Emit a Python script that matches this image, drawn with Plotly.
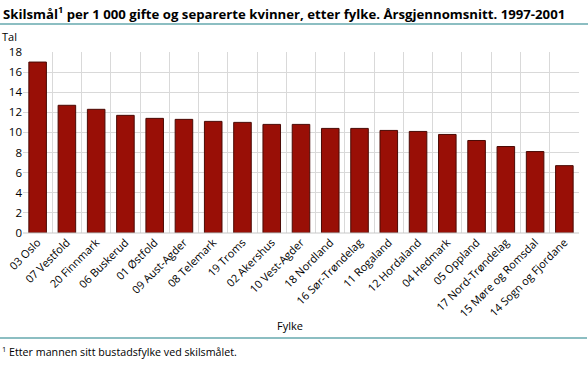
import plotly.graph_objects as go

fylke = ["03 Oslo", "07 Vestfold", "20 Finnmark", "06 Buskerud", "01 Østfold",
         "09 Aust-Agder", "08 Telemark", "19 Troms", "02 Akershus", "10 Vest-Agder",
         "18 Nordland", "16 Sør-Trøndelag", "11 Rogaland", "12 Hordaland", "04 Hedmark",
         "05 Oppland", "17 Nord-Trøndelag", "15 Møre og Romsdal", "14 Sogn og Fjordane"]
skilsmaal = [17.0, 12.7, 12.3, 11.7, 11.4, 11.3, 11.1, 11.0, 10.8, 10.8,
             10.4, 10.4, 10.2, 10.1, 9.8, 9.2, 8.6, 8.1, 6.7]
y_ticks = [0, 2, 4, 6, 8, 10, 12, 14, 16, 18]

W, H = 588, 391
ml, mr, mt, mb = 23, 9, 52, 158
pw, ph = W - ml - mr, H - mt - mb

def px_x(x):
    return (x - ml) / pw

def px_y(y):
    return (H - mb - y) / ph

FONT = "Open Sans"

fig = go.Figure(go.Bar(
    x=fylke, y=skilsmaal,
    marker=dict(color="#990f06", line=dict(color="#4a0a05", width=1)),
))

fig.update_layout(
    width=W, height=H,
    margin=dict(l=ml, r=mr, t=mt, b=mb, autoexpand=False),
    paper_bgcolor="white", plot_bgcolor="white",
    bargap=0.4,
    showlegend=False,
    font=dict(family=FONT, size=11, color="#000000"),
    xaxis=dict(
        tickson="boundaries", showgrid=True, gridcolor="#d9d9d9", gridwidth=1,
        tickangle=-45, ticks="", showline=False, automargin=False,
        tickfont=dict(size=11),
    ),
    yaxis=dict(
        range=[0, 18], tickvals=y_ticks, showgrid=True, gridcolor="#d9d9d9",
        gridwidth=1, zeroline=False, showline=False, ticks="", automargin=False,
        tickfont=dict(size=11.5),
    ),
    annotations=[
        dict(text="<b>Skilsmål<sup>1</sup> per 1 000 gifte og separerte kvinner, etter fylke. Årsgjennomsnitt. 1997-2001</b>",
             xref="paper", yref="paper", x=px_x(1), y=px_y(13), xanchor="left", yanchor="middle",
             showarrow=False, font=dict(size=13.2, family=FONT)),
        dict(text="Tal", xref="paper", yref="paper", x=px_x(0), y=px_y(36),
             xanchor="left", yanchor="middle", showarrow=False, font=dict(size=11)),
        dict(text="Fylke", xref="paper", yref="paper", x=px_x(290), y=px_y(325),
             xanchor="center", yanchor="middle", showarrow=False, font=dict(size=11)),
        dict(text="<sup>1</sup> Etter mannen sitt bustadsfylke ved skilsmålet.",
             xref="paper", yref="paper", x=px_x(0), y=px_y(351),
             xanchor="left", yanchor="middle", showarrow=False, font=dict(size=10.7)),
    ],
    shapes=[
        dict(type="line", xref="paper", yref="paper", x0=px_x(0), x1=px_x(588),
             y0=px_y(24), y1=px_y(24), line=dict(color="#1a7f86", width=1.2)),
        dict(type="line", xref="paper", yref="paper", x0=px_x(0), x1=px_x(587),
             y0=px_y(338), y1=px_y(338), line=dict(color="#1a7f86", width=1.2)),
        dict(type="line", xref="paper", yref="paper", x0=0, x1=1,
             y0=0, y1=0, line=dict(color="#c8c8c8", width=1)),
    ],
)

fig.write_html("out.html",
               config=dict(displayModeBar=False),
               post_script="document.body.style.margin='0';document.body.style.overflow='hidden';")
